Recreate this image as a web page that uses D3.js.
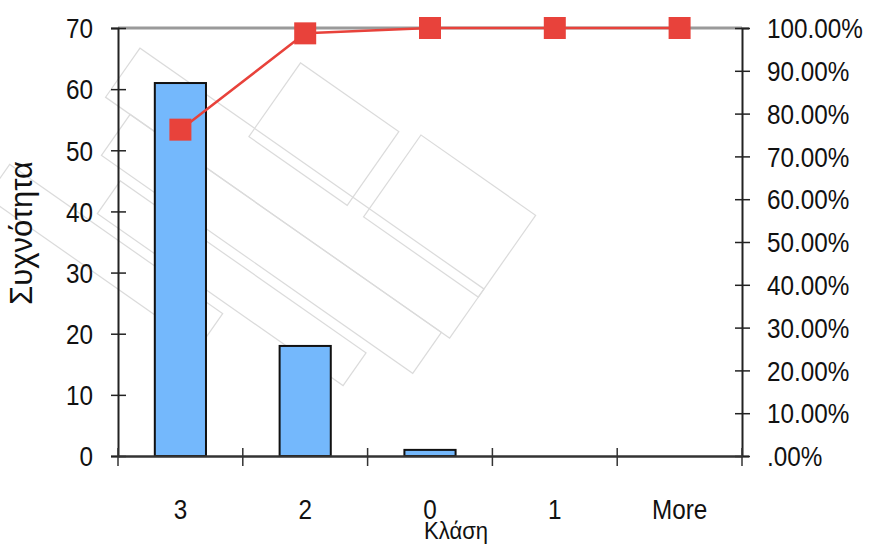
<!DOCTYPE html>
<html>
<head>
<meta charset="utf-8">
<script src="https://cdn.jsdelivr.net/npm/d3@7"></script>
<style>
  html, body { margin: 0; padding: 0; background: #fff; }
  svg { display: block; }
  text { font-family: "Liberation Sans", Arial, sans-serif; fill: #111; }
</style>
</head>
<body>
<svg id="chart" width="869" height="545"></svg>
<script>
const categories = ["3", "2", "0", "1", "More"];
const frequency = [61, 18, 1, 0, 0];
const cumulative = [0.7625, 0.9875, 1.0, 1.0, 1.0];
const leftTicks = [0, 10, 20, 30, 40, 50, 60, 70];
const rightTicks = [0, 0.1, 0.2, 0.3, 0.4, 0.5, 0.6, 0.7, 0.8, 0.9, 1.0];
const yTitle = "Συχνότητα";
const xTitle = "Κλάση";

const svg = d3.select("#chart");
const L = 118, R = 742, T = 28, B = 456;

const x = d3.scaleBand().domain(categories).range([L, R]).paddingInner(0.59).paddingOuter(0.295);
const yL = d3.scaleLinear().domain([0, 70]).range([B, T]);
const yR = d3.scaleLinear().domain([0, 1]).range([B, T]);

// light watermark-like decoration (faint outlines)
const wm = svg.append("g").attr("opacity", 0.35).attr("fill", "none").attr("stroke", "#999").attr("stroke-width", 1.2)
  .attr("transform", "translate(330,230) rotate(35)");
[[-260,-40,420,60],[-230,20,380,50],[-200,80,300,40],[-120,-120,120,90],[20,-130,140,100],[-300,130,260,40]].forEach(r=>{
  wm.append("rect").attr("x", r[0]).attr("y", r[1]).attr("width", r[2]).attr("height", r[3]);
});

// top gray border
svg.append("line").attr("x1", L).attr("x2", R).attr("y1", T).attr("y2", T)
  .attr("stroke", "#9a9a9a").attr("stroke-width", 3);

// bars
svg.append("g").selectAll("rect").data(categories).join("rect")
  .attr("x", d => x(d))
  .attr("y", (d, i) => yL(frequency[i]))
  .attr("width", x.bandwidth())
  .attr("height", (d, i) => yL(0) - yL(frequency[i]))
  .attr("fill", "#74b8fc")
  .attr("stroke", "#111")
  .attr("stroke-width", 2);

// left axis
const ga = svg.append("g").attr("transform", `translate(${L},0)`)
  .call(d3.axisLeft(yL).tickValues(leftTicks).tickSize(7));
ga.select(".domain").attr("stroke", "#222").attr("stroke-width", 2);
ga.selectAll(".tick line").attr("x1", -7).attr("x2", 8).attr("stroke", "#222").attr("stroke-width", 1.5);
ga.selectAll(".tick text").style("font-size", "27px").attr("dy", "0.36em")
  .attr("transform", "scale(0.9,1)").attr("x", -25 / 0.9);

// right axis
const gr = svg.append("g").attr("transform", `translate(${R},0)`)
  .call(d3.axisRight(yR).tickValues(rightTicks).tickSize(7)
    .tickFormat(d => d === 0 ? ".00%" : (d * 100).toFixed(2) + "%"));
gr.select(".domain").attr("stroke", "#222").attr("stroke-width", 2);
gr.selectAll(".tick line").attr("x1", -7).attr("x2", 8).attr("stroke", "#222").attr("stroke-width", 1.5);
gr.selectAll(".tick text").style("font-size", "27px").attr("dy", "0.36em")
  .attr("transform", "scale(0.9,1)").attr("x", 25 / 0.9);

// bottom axis
const gb = svg.append("g").attr("transform", `translate(0,${B})`)
  .call(d3.axisBottom(x).tickSize(0));
gb.select(".domain").attr("stroke", "#333").attr("stroke-width", 2.5);
gb.selectAll(".tick text").style("font-size", "27px").attr("transform", "scale(0.9,1)")
  .attr("y", 63).attr("dy", "0");

// boundary tick marks
const bounds = categories.map(c => x(c) - x.step() * x.paddingInner() / 2).concat([R]);
svg.append("g").selectAll("line").data(bounds).join("line")
  .attr("x1", d => d).attr("x2", d => d)
  .attr("y1", B - 8).attr("y2", B + 10)
  .attr("stroke", "#333").attr("stroke-width", 1.5);

// cumulative line
const pts = categories.map((c, i) => [x(c) + x.bandwidth() / 2, yR(cumulative[i])]);
svg.append("path").datum(pts)
  .attr("d", d3.line())
  .attr("fill", "none").attr("stroke", "#e8423b").attr("stroke-width", 2.5);
svg.append("g").selectAll("rect").data(pts).join("rect")
  .attr("x", d => d[0] - 11).attr("y", d => d[1] - 11)
  .attr("width", 22).attr("height", 22)
  .attr("fill", "#e8423b");

// titles
svg.append("text")
  .attr("transform", "translate(32,233) rotate(-90)")
  .attr("text-anchor", "middle")
  .style("font-size", "31px")
  .text(yTitle);
svg.append("text")
  .attr("transform", "translate(456,539) scale(0.92,1)")
  .attr("text-anchor", "middle")
  .style("font-size", "24px")
  .text(xTitle);
</script>
</body>
</html>
